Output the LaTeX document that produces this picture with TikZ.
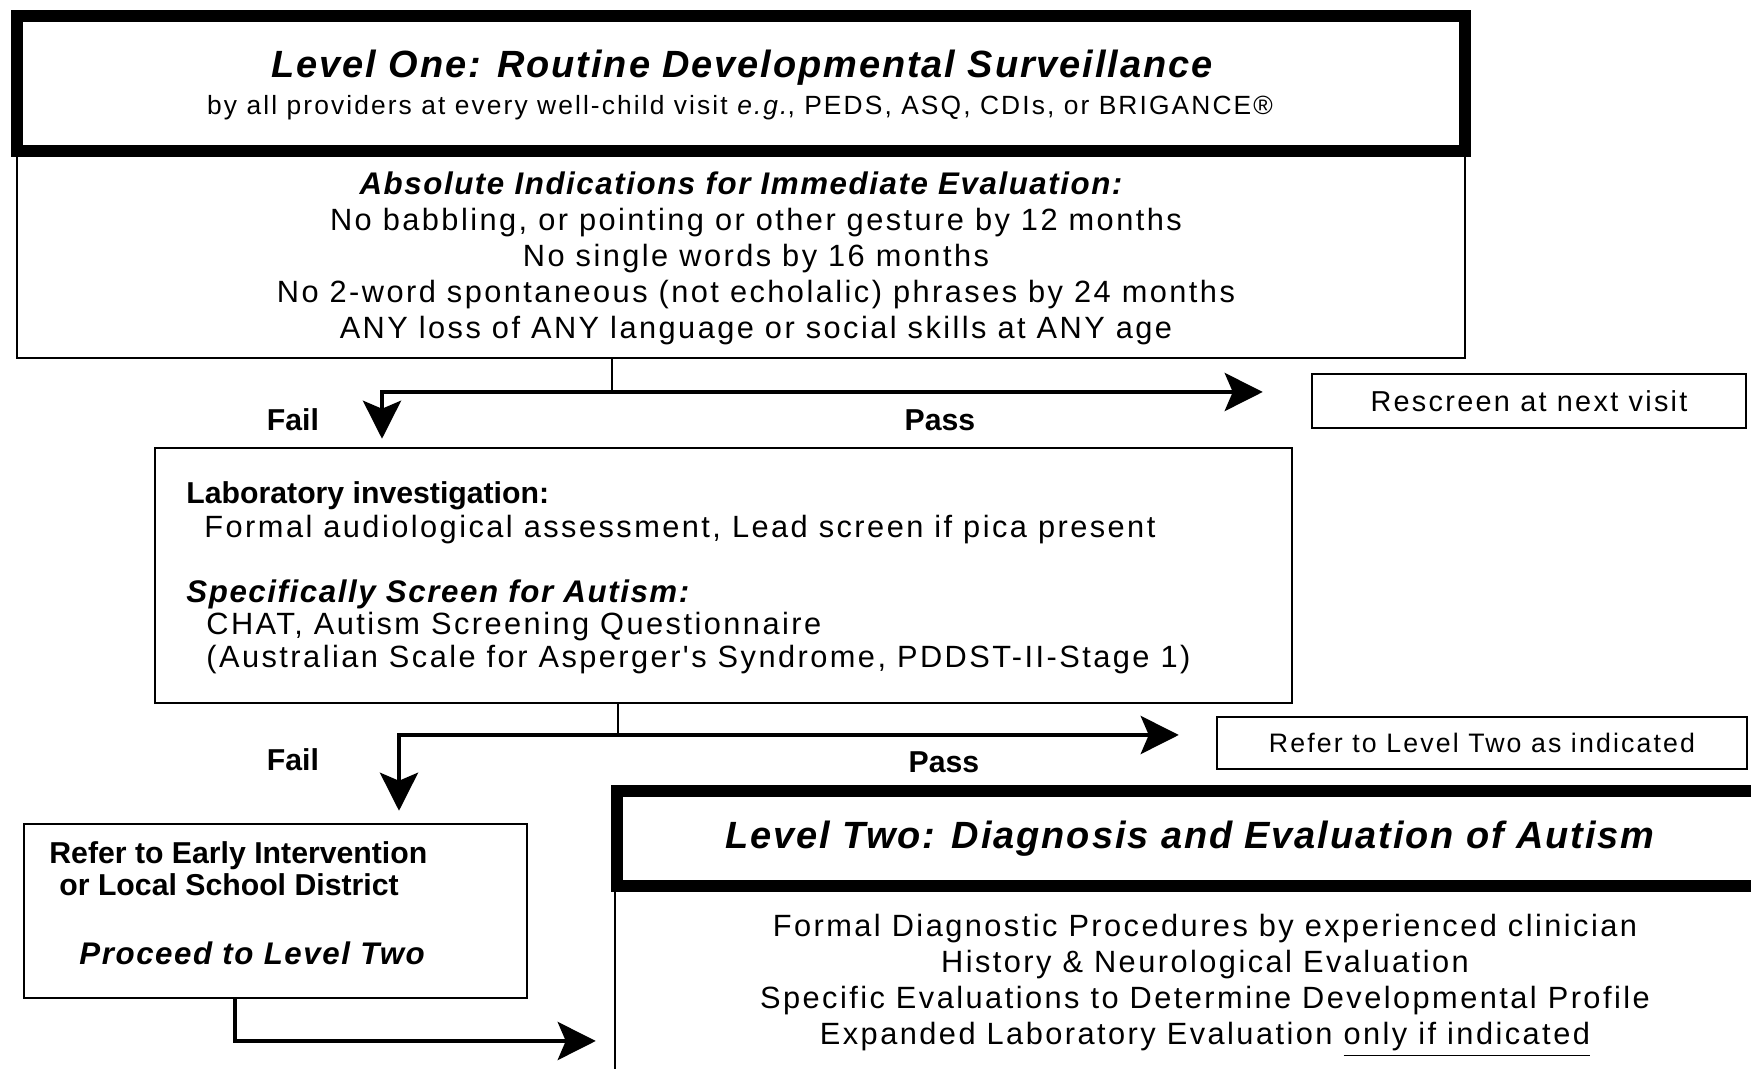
\documentclass[tikz,border=0pt]{standalone}
\usepackage{fontspec}
\setmainfont{Liberation Sans}
\newfontfamily\spaced{Liberation Sans}[LetterSpace=8]
\newfontfamily\headfont{Liberation Sans}[LetterSpace=5]
\usetikzlibrary{arrows.meta}

\tikzset{
  heavybox/.style={draw,line width=0.12cm,inner sep=0pt},
  thinbox/.style={draw,line width=0.7pt,inner sep=0pt},
  stub/.style={line width=0.7pt},
  flow/.style={line width=1.2pt,-{Stealth[length=0.38cm,width=0.38cm,inset=0.08cm]}},
  bighead/.style={font=\headfont\bfseries\itshape\fontsize{10.8}{13}\selectfont},
  subhead/.style={font=\headfont\bfseries\itshape\fontsize{8.9}{11}\selectfont},
  body/.style={font=\spaced\fontsize{8.75}{10.25}\selectfont,align=center},
  smallbody/.style={font=\spaced\fontsize{7.5}{8}\selectfont},
  tag/.style={font=\bfseries\fontsize{8.6}{10}\selectfont},
}

\begin{document}
\begin{tikzpicture}[x=1cm,y=1cm]
    \useasboundingbox (0,0) rectangle (17.51,-10.69);
    \clip (0,0) rectangle (17.51,-10.69);

    % Level one: surveillance header and red flags.
    \node[thinbox,minimum width=14.48cm,minimum height=2.07cm]
        (indic) at (7.41,-2.545) {};
    \node[heavybox,minimum width=14.48cm,minimum height=1.35cm]
        (lvone) at (7.41,-0.835) {};
    \node[bighead] (lvonetitle) at (7.42,-0.68)
        {Level One: Routine Developmental Surveillance};
    \node[smallbody] (lvonesub) at (7.40,-1.08)
        {by all providers at every well-child visit \textit{e.g.}, PEDS, ASQ, CDIs, or BRIGANCE®};
    \node[subhead] (abshead) at (7.41,-1.83)
        {Absolute Indications for Immediate Evaluation:};
    \node[body] (abslist) at (7.56,-2.77)
        {No babbling, or pointing or other gesture by 12 months\\
         No single words by 16 months\\
         No 2-word spontaneous (not echolalic) phrases by 24 months\\
         ANY loss of ANY language or social skills at ANY age};

    % First screen: fail goes down, pass goes to the right.
    \node[thinbox,minimum width=4.34cm,minimum height=0.54cm,body,
        font=\spaced\fontsize{8.2}{9}\selectfont]
        (resc) at (15.29,-4.01) {Rescreen at next visit};
    \node[thinbox,minimum width=11.37cm,minimum height=2.55cm]
        (lab) at (7.235,-5.755) {};
    \coordinate (j1) at (6.12,-3.92);
    \coordinate (f1) at (3.82,-3.92);
    \draw[stub] (indic.south -| j1) -- (j1);
    \draw[flow,shorten >=0.08cm] (j1) -- (f1) -- (f1 |- lab.north);
    \draw[flow,shorten >=0.48cm] (j1) -- (resc.west |- j1);
    \node[tag] (fail1) at (2.93,-4.20) {Fail};
    \node[tag] (pass1) at (9.40,-4.20) {Pass};

    % Laboratory work-up and autism screening.
    \node[tag,anchor=west] (labhead) at (1.74,-4.96)
        {Laboratory investigation:};
    \node[body,anchor=west] (labtext) at (1.92,-5.295)
        {Formal audiological assessment, Lead screen if pica present};
    \node[subhead,anchor=west] (scrhead) at (1.74,-5.945)
        {Specifically Screen for Autism:};
    \node[body,anchor=west] (scrtext1) at (1.94,-6.27)
        {CHAT, Autism Screening Questionnaire};
    \node[body,anchor=west] (scrtext2) at (1.94,-6.595)
        {(Australian Scale for Asperger's Syndrome, PDDST-II-Stage 1)};

    % Second screen.
    \node[thinbox,minimum width=5.30cm,minimum height=0.52cm,body,
        font=\spaced\fontsize{7.6}{9}\selectfont]
        (refer) at (14.82,-7.43) {Refer to Level Two as indicated};
    \node[thinbox,minimum width=5.03cm,minimum height=1.74cm]
        (early) at (2.755,-9.11) {};
    \coordinate (j2) at (6.18,-7.35);
    \coordinate (f2) at (3.99,-7.35);
    \draw[stub] (lab.south -| j2) -- (j2);
    \draw[flow,shorten >=0.12cm] (j2) -- (f2) -- (f2 |- early.north);
    \draw[flow,shorten >=0.37cm] (j2) -- (refer.west |- j2);
    \node[tag] (fail2) at (2.93,-7.60) {Fail};
    \node[tag] (pass2) at (9.44,-7.62) {Pass};

    \node[tag,anchor=west] (early1) at (0.37,-8.56)
        {Refer to Early Intervention};
    \node[tag,anchor=west] (early2) at (0.47,-8.85)
        {or Local School District};
    \node[subhead,anchor=west] (early3) at (0.67,-9.53)
        {Proceed to Level Two};

    % Level two: diagnosis and evaluation.
    \node[thinbox,minimum width=11.85cm,minimum height=2.34cm]
        (diag) at (12.075,-10.03) {};
    \node[heavybox,minimum width=11.83cm,minimum height=0.95cm]
        (lvtwo) at (12.085,-8.385) {};
    \node[bighead] (lvtwotitle) at (11.90,-8.39)
        {Level Two: Diagnosis and Evaluation of Autism};
    \node[body] (diaglist) at (12.05,-9.86)
        {Formal Diagnostic Procedures by experienced clinician\\
         History \& Neurological Evaluation\\
         Specific Evaluations to Determine Developmental Profile\\
         Expanded Laboratory Evaluation \underline{only if indicated}};
    \coordinate (p1) at (2.35,-10.41);
    \draw[flow,shorten >=0.18cm] (p1 |- early.south) -- (p1) -- (diag.west |- p1);
\end{tikzpicture}
\end{document}
